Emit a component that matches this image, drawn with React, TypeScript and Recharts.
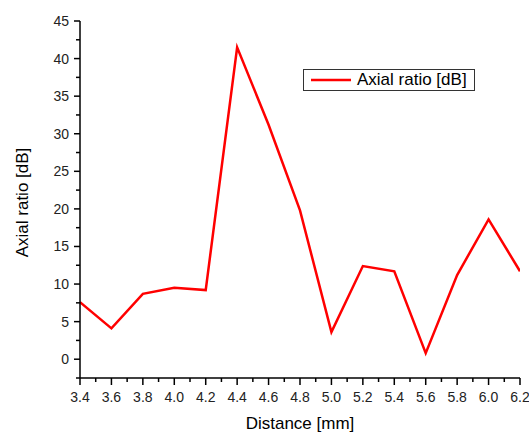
import React from "react";
import { LineChart, Line, XAxis, YAxis, Legend } from "recharts";

const distances = [3.4, 3.6, 3.8, 4.0, 4.2, 4.4, 4.6, 4.8, 5.0, 5.2, 5.4, 5.6, 5.8, 6.0, 6.2];
const axialRatio = [7.6, 4.1, 8.7, 9.5, 9.2, 41.5, 31.2, 19.8, 3.6, 12.4, 11.7, 0.8, 11.2, 18.6, 11.7];
const xTicks = [3.4, 3.5, 3.6, 3.7, 3.8, 3.9, 4.0, 4.1, 4.2, 4.3, 4.4, 4.5, 4.6, 4.7, 4.8, 4.9, 5.0, 5.1, 5.2, 5.3, 5.4, 5.5, 5.6, 5.7, 5.8, 5.9, 6.0, 6.1, 6.2];
const yTicks = [-2.5, 0, 2.5, 5, 7.5, 10, 12.5, 15, 17.5, 20, 22.5, 25, 27.5, 30, 32.5, 35, 37.5, 40, 42.5, 45];

const data = distances.map((x, i) => ({ x, ar: axialRatio[i] }));

const FONT = "'Liberation Sans', Arial, sans-serif";

const XTick = (props: any) => {
  const { x, y, payload } = props;
  const v = payload.value as number;
  const major = Math.round(v * 10) % 2 === 0;
  return (
    <g>
      <line x1={x} x2={x} y1={y} y2={y + (major ? 7 : 4)} stroke="#000" strokeWidth={1.5} />
      {major && (
        <text x={x} y={y + 24} textAnchor="middle" fontSize={14} fill="#222" fontFamily={FONT}>
          {v.toFixed(1)}
        </text>
      )}
    </g>
  );
};

const YTick = (props: any) => {
  const { x, y, payload } = props;
  const v = payload.value as number;
  const major = v % 5 === 0;
  return (
    <g>
      <line x1={x} x2={x - (major ? 6 : 4)} y1={y} y2={y} stroke="#000" strokeWidth={1.5} />
      {major && (
        <text x={x - 11} y={y} dy={5} textAnchor="end" fontSize={14} fill="#222" fontFamily={FONT}>
          {v}
        </text>
      )}
    </g>
  );
};

const renderLegend = (props: any) => {
  const item = props.payload && props.payload[0];
  return (
    <div
      style={{
        boxSizing: "border-box",
        width: 172,
        height: 22,
        border: "1px solid #333",
        display: "flex",
        alignItems: "center",
        fontFamily: FONT,
        fontSize: 17,
        color: "#000",
        background: "#fff",
      }}
    >
      <svg width={50} height={20} style={{ display: "block" }}>
        <line x1={7} x2={47} y1={10} y2={10} stroke={item ? item.color : "#ff0000"} strokeWidth={2.5} />
      </svg>
      <span style={{ marginLeft: 3, whiteSpace: "nowrap" }}>{item ? item.value : ""}</span>
    </div>
  );
};

export default function App() {
  return (
    <div style={{ fontFamily: FONT, position: "absolute", left: 8, top: 8, width: 521, height: 424 }}>
      <style>{"svg.recharts-surface{overflow:visible}"}</style>
      <LineChart
        width={521}
        height={424}
        data={data}
        margin={{ top: 13, right: 9, left: 0, bottom: 0 }}
      >
        <XAxis
          dataKey="x"
          type="number"
          domain={[3.4, 6.2]}
          ticks={xTicks}
          interval={0}
          height={54}
          tickSize={0}
          tickMargin={0}
          tickLine={false}
          tick={<XTick />}
          axisLine={{ stroke: "#000", strokeWidth: 1.5 }}
          allowDataOverflow
          label={(p: any) => {
            const vb = p.viewBox;
            return (
              <text x={vb.x + vb.width / 2} y={vb.y + vb.height - 3} textAnchor="middle" fontSize={17} fill="#000" fontFamily={FONT}>
                Distance [mm]
              </text>
            );
          }}
        />
        <YAxis
          type="number"
          domain={[-2.5, 45]}
          ticks={yTicks}
          interval={0}
          width={72}
          tickSize={0}
          tickMargin={0}
          tickLine={false}
          tick={<YTick />}
          axisLine={{ stroke: "#000", strokeWidth: 1.5 }}
          allowDataOverflow
          label={(p: any) => {
            const vb = p.viewBox;
            const cx = vb.x + 14;
            const cy = vb.y + vb.height / 2 + 3;
            return (
              <text
                x={cx}
                y={cy}
                dy={6}
                transform={`rotate(-90 ${cx} ${cy})`}
                textAnchor="middle"
                fontSize={17}
                fill="#000"
                fontFamily={FONT}
              >
                Axial ratio [dB]
              </text>
            );
          }}
        />
        <Legend
          verticalAlign="middle"
          align="center"
          layout="horizontal"
          wrapperStyle={{ left: 295, top: 61, width: 172, height: 22 }}
          content={renderLegend}
        />
        <Line
          type="linear"
          dataKey="ar"
          name="Axial ratio [dB]"
          stroke="#ff0000"
          strokeWidth={2.5}
          dot={false}
          isAnimationActive={false}
        />
      </LineChart>
    </div>
  );
}
